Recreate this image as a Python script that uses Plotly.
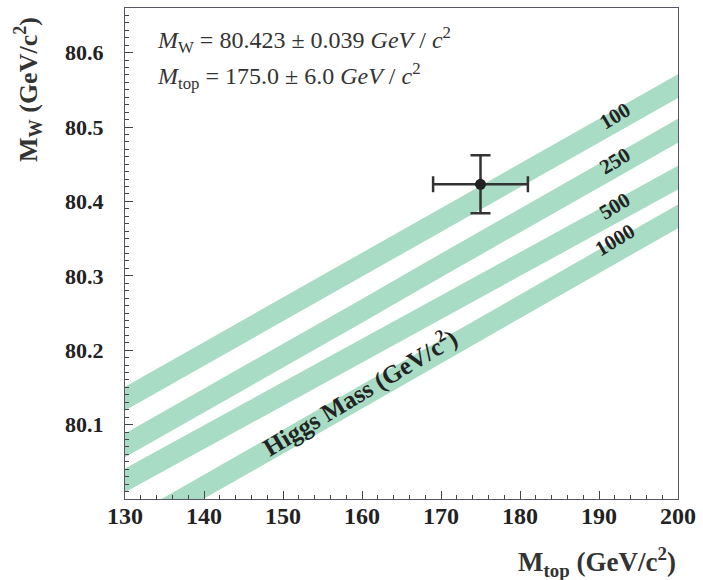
import numpy as np
import plotly.graph_objects as go

# ---- data ----
mt_grid = [130, 140, 150, 160, 170, 180, 190, 200]          # top mass (GeV/c^2)
higgs_masses = ["100", "250", "500", "1000"]                  # Higgs mass labels (GeV/c^2)
mw_h100 = [80.135, 80.195, 80.255, 80.315, 80.375, 80.435, 80.495, 80.555]
mw_h250 = [80.072, 80.132, 80.193, 80.253, 80.314, 80.374, 80.435, 80.495]
mw_h500 = [80.025, 80.083, 80.141, 80.199, 80.258, 80.316, 80.374, 80.432]
mw_h1000 = [79.956, 80.017, 80.077, 80.138, 80.198, 80.259, 80.320, 80.380]
band_halfwidth = 0.016

meas_mt = [175.0]
meas_mt_err = [6.0]
meas_mw = [80.423]
meas_mw_err = [0.039]

x_ticks = [130, 140, 150, 160, 170, 180, 190, 200]
y_ticks = [80.1, 80.2, 80.3, 80.4, 80.5, 80.6]
y_ticktext = ["80.1", "80.2", "80.3", "80.4", "80.5", "80.6"]

# ---- figure ----
BAND = "#a9dcc4"
SERIF = "Liberation Serif"
fig = go.Figure()

bands = [mw_h100, mw_h250, mw_h500, mw_h1000]
for name, c in zip(higgs_masses, bands):
    c = np.array(c)
    xs = list(mt_grid) + list(mt_grid[::-1])
    ys = list(c + band_halfwidth) + list((c - band_halfwidth)[::-1])
    fig.add_trace(go.Scatter(x=xs, y=ys, fill="toself", fillcolor=BAND,
                             line=dict(width=0), mode="lines", hoverinfo="skip",
                             showlegend=False, name=name))

fig.add_trace(go.Scatter(
    x=meas_mt, y=meas_mw, mode="markers",
    marker=dict(color="#222", size=11),
    error_x=dict(type="data", array=meas_mt_err, color="#333", thickness=2.5, width=8),
    error_y=dict(type="data", array=meas_mw_err, color="#333", thickness=2.5, width=10),
    showlegend=False))

# band labels, placed on the bands
label_mt = 192.0
label_offsets = [0.008, 0.008, 0.008, 0.016]
for name, c, off in zip(higgs_masses, bands, label_offsets):
    yv = float(np.interp(label_mt, mt_grid, c)) + off
    fig.add_annotation(x=label_mt, y=yv, text="<b>%s</b>" % name, showarrow=False,
                       textangle=-31, font=dict(family=SERIF, size=21, color="#222"))

# Higgs mass label along the lowest band
hx = 159.7
hy = float(np.interp(hx, mt_grid, mw_h1000)) + 0.008
fig.add_annotation(x=hx, y=hy, text="<b>Higgs Mass (GeV/c<sup>2</sup>)</b>", showarrow=False,
                   textangle=-31, font=dict(family=SERIF, size=25, color="#222"))

# measurement text
fig.add_annotation(xref="paper", yref="paper", x=0.055, y=1, yshift=-32, xanchor="left",
                   yanchor="middle", showarrow=False,
                   text="<i>M</i><sub>W</sub> = 80.423 ± 0.039 <i>GeV</i> / <i>c</i><sup>2</sup>",
                   font=dict(family=SERIF, size=24, color="#333"))
fig.add_annotation(xref="paper", yref="paper", x=0.055, y=1, yshift=-68, xanchor="left",
                   yanchor="middle", showarrow=False,
                   text="<i>M</i><sub>top</sub> = 175.0 ± 6.0 <i>GeV</i> / <i>c</i><sup>2</sup>",
                   font=dict(family=SERIF, size=24, color="#333"))

# axis titles
fig.add_annotation(xref="paper", yref="paper", x=1, y=0, xanchor="right", yanchor="middle",
                   yshift=-63, showarrow=False,
                   text="<b>M<sub>top</sub> (GeV/c<sup>2</sup>)</b>",
                   font=dict(family=SERIF, size=27, color="#333"))
fig.add_annotation(xref="paper", yref="paper", x=0, y=1, xanchor="center", yanchor="middle",
                   xshift=-97, yshift=-82, textangle=-90, showarrow=False,
                   text="<b>M<sub>W</sub> (GeV/c<sup>2</sup>)</b>",
                   font=dict(family=SERIF, size=26, color="#333"))

axis_common = dict(showgrid=False, zeroline=False, showline=True, mirror=True,
                   linecolor="#556", linewidth=1, ticks="inside", tickcolor="#444",
                   ticklen=8, tickwidth=1)
fig.update_xaxes(range=[130, 200], tickvals=x_ticks, ticklabelstandoff=-5,
                 tickfont=dict(family=SERIF, size=24, color="#222", weight="bold"),
                 minor=dict(dtick=2, ticks="inside", ticklen=4, tickcolor="#444"),
                 **axis_common)
fig.update_yaxes(range=[80.0, 80.66], tickvals=y_ticks, ticktext=y_ticktext,
                 ticklabelstandoff=16,
                 tickfont=dict(family=SERIF, size=22, color="#222", weight="bold"),
                 minor=dict(dtick=0.01, ticks="inside", ticklen=4, tickcolor="#444"),
                 **axis_common)

fig.update_layout(width=703, height=580, margin=dict(l=125, r=25, t=8, b=81),
                  plot_bgcolor="white", paper_bgcolor="white")

fig.write_html("out.html", config={"displayModeBar": False},
               post_script="document.body.style.margin='0px';")
